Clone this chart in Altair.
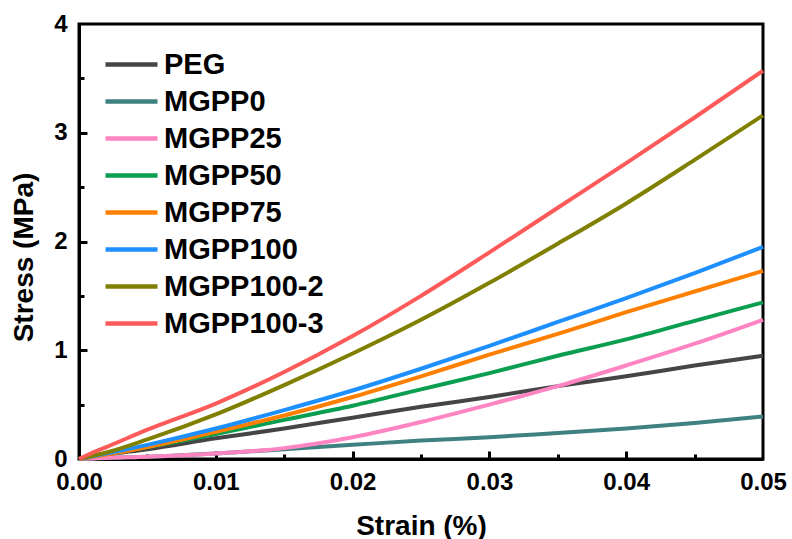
import altair as alt
import pandas as pd

strain = [0.0, 0.001, 0.002, 0.005, 0.01, 0.015, 0.02, 0.025, 0.03, 0.035, 0.04, 0.045, 0.05]

peg       = [0.0, 0.02, 0.04, 0.09, 0.19, 0.28, 0.38, 0.48, 0.57, 0.67, 0.76, 0.86, 0.95]
mgpp0     = [0.0, 0.005, 0.01, 0.02, 0.05, 0.09, 0.13, 0.17, 0.20, 0.24, 0.28, 0.33, 0.39]
mgpp25    = [0.0, 0.005, 0.01, 0.02, 0.05, 0.10, 0.20, 0.34, 0.50, 0.67, 0.86, 1.06, 1.28]
mgpp50    = [0.0, 0.025, 0.05, 0.11, 0.23, 0.36, 0.49, 0.64, 0.79, 0.95, 1.10, 1.27, 1.44]
mgpp75    = [0.0, 0.02, 0.04, 0.11, 0.25, 0.40, 0.57, 0.76, 0.96, 1.15, 1.35, 1.54, 1.73]
mgpp100   = [0.0, 0.025, 0.05, 0.13, 0.28, 0.45, 0.63, 0.83, 1.04, 1.26, 1.48, 1.71, 1.95]
mgpp100_2 = [0.0, 0.03, 0.06, 0.18, 0.41, 0.68, 0.97, 1.28, 1.62, 1.98, 2.35, 2.75, 3.16]
mgpp100_3 = [0.0, 0.06, 0.11, 0.27, 0.51, 0.80, 1.13, 1.50, 1.90, 2.31, 2.72, 3.14, 3.57]

names = ["PEG", "MGPP0", "MGPP25", "MGPP50", "MGPP75", "MGPP100", "MGPP100-2", "MGPP100-3"]
series = [peg, mgpp0, mgpp25, mgpp50, mgpp75, mgpp100, mgpp100_2, mgpp100_3]
colors = ["#454545", "#3f8080", "#ff85c2", "#0a9e50", "#ff8000", "#1e8fff", "#808000", "#ff5a5a"]

x_major = [0.01, 0.02, 0.03, 0.04]
x_minor = [0.005, 0.015, 0.025, 0.035, 0.045]
y_major = [1, 2, 3]
y_minor = [0.5, 1.5, 2.5, 3.5]

rows = []
for n, vals in zip(names, series):
    for i, (s, v) in enumerate(zip(strain, vals)):
        rows.append({"strain": s, "stress": v, "sample": n, "order": i})
df = pd.DataFrame(rows)

FONT = "Liberation Sans"
W, H = 684, 435

xscale = alt.Scale(domain=[0, 0.05], nice=False, zero=False)
yscale = alt.Scale(domain=[0, 4], nice=False)

lines = alt.Chart(df).mark_line(strokeWidth=4, interpolate="monotone").encode(
    x=alt.X("strain:Q", scale=xscale,
            axis=alt.Axis(title="Strain (%)", values=[0, 0.01, 0.02, 0.03, 0.04, 0.05], format=".2f",
                          orient="bottom",
                          ticks=False, tickSize=0, labelPadding=11, labelFontSize=24,
                          labelFont=FONT, labelFontWeight="bold", labelColor="black",
                          titleFont=FONT, titleFontSize=28, titleFontWeight="bold", titleColor="black",
                          titleX=342, titleY=75, titleBaseline="alphabetic",
                          domainColor="black", domainWidth=3, grid=False, labelFlush=False)),
    y=alt.Y("stress:Q", scale=yscale,
            axis=alt.Axis(title="Stress (MPa)", values=[0, 1, 2, 3, 4], format="d",
                          orient="left",
                          ticks=False, tickSize=0, labelPadding=12, labelFontSize=24,
                          labelFont=FONT, labelFontWeight="bold", labelColor="black",
                          titleFont=FONT, titleFontSize=28, titleFontWeight="bold", titleColor="black",
                          titleX=-47, titleY=233, titleBaseline="alphabetic", titleAngle=-90,
                          domainColor="black", domainWidth=3, grid=False, labelFlush=False)),
    color=alt.Color("sample:N", scale=alt.Scale(domain=names, range=colors), sort=names,
                    legend=alt.Legend(title=None, orient="none", legendX=37, legendY=25,
                                      symbolType="M-2,0H2", symbolSize=676, symbolStrokeWidth=4.5,
                                      symbolFillColor="transparent",
                                      labelFontSize=29, labelFont=FONT, labelFontWeight="bold",
                                      labelColor="black", labelOffset=17, rowPadding=6,
                                      padding=0)),
    order="order:Q",
)


def tick_axis(vals, size, orient, offset):
    return alt.Axis(values=vals, orient=orient, offset=offset, tickSize=size, tickWidth=3,
                    tickColor="black", labels=False, domain=False, grid=False, title=None,
                    ticks=True)


def xtick_layer(vals, size):
    d = pd.DataFrame({"v": vals, "z": [0.0] * len(vals)})
    return alt.Chart(d).mark_point(opacity=0).encode(
        x=alt.X("v:Q", scale=xscale, axis=tick_axis(vals, size, "top", -H)),
        y=alt.Y("z:Q", scale=yscale, axis=None))


def ytick_layer(vals, size):
    d = pd.DataFrame({"v": vals, "z": [0.0] * len(vals)})
    return alt.Chart(d).mark_point(opacity=0).encode(
        y=alt.Y("v:Q", scale=yscale, axis=tick_axis(vals, size, "right", -W)),
        x=alt.X("z:Q", scale=xscale, axis=None))


chart = alt.layer(
    lines,
    xtick_layer(x_major, 8), xtick_layer(x_minor, 5),
    ytick_layer(y_major, 8), ytick_layer(y_minor, 5),
).resolve_axis(x="independent", y="independent").properties(
    width=W, height=H,
    autosize=alt.AutoSizeParams(type="none"),
    padding={"left": 79, "top": 24, "right": 29, "bottom": 80},
    background="white",
).configure_view(stroke="black", strokeWidth=3)

chart.save("out.html", embed_options={"renderer": "svg", "actions": False})
